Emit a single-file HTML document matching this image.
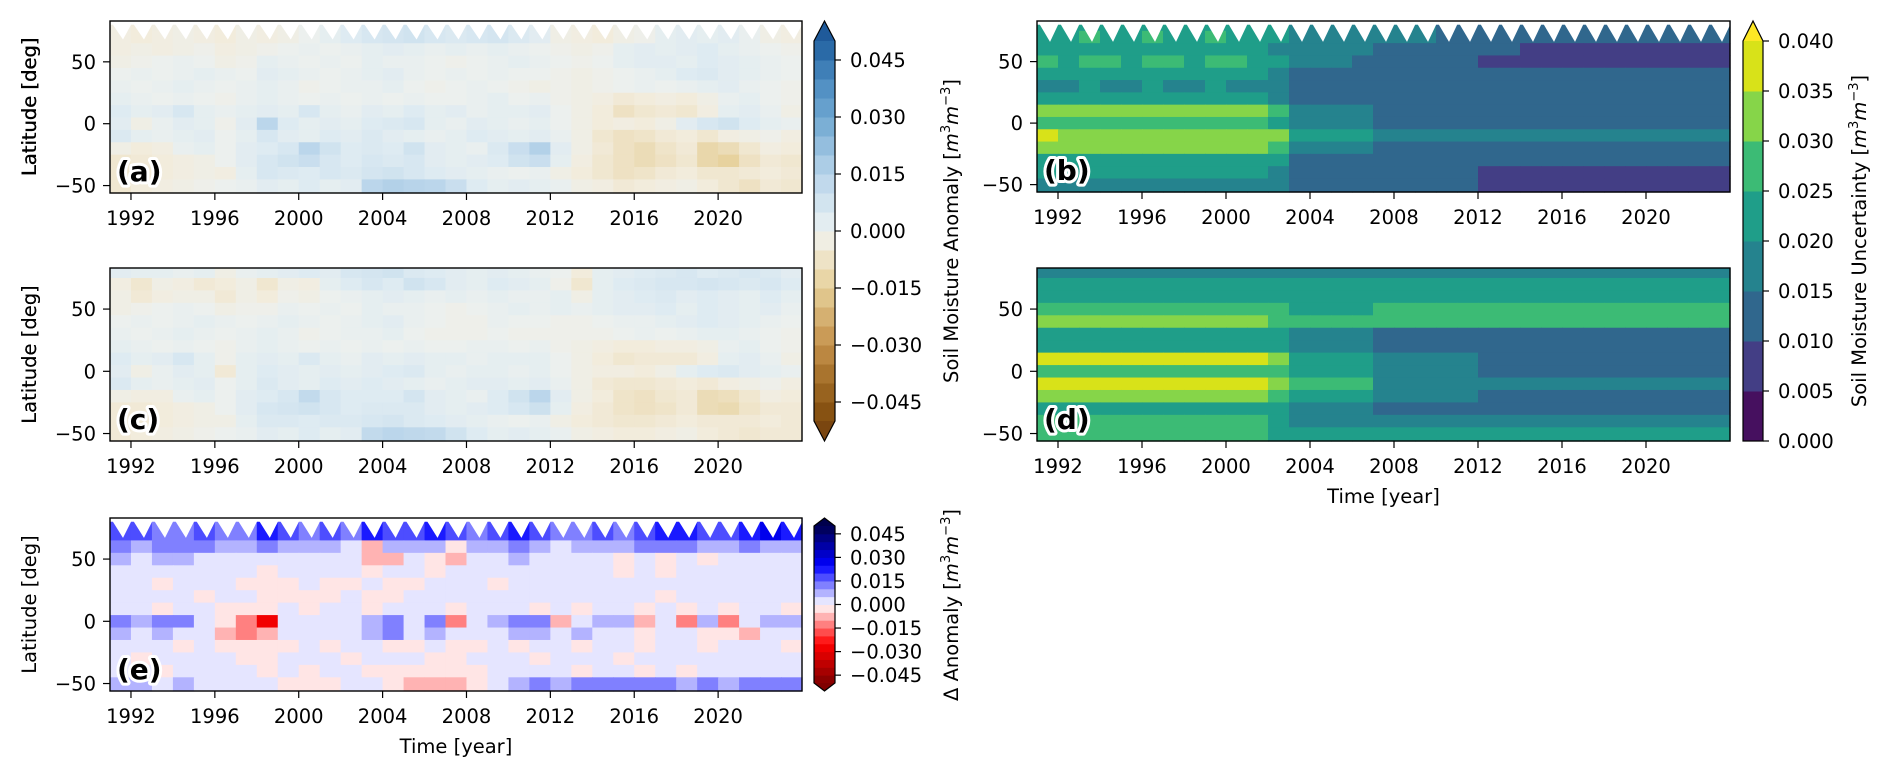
<!DOCTYPE html>
<html><head><meta charset="utf-8">
<style>
html,body{margin:0;padding:0;background:#fff;}
svg{display:block;}
text{font-family:"DejaVu Sans","Liberation Sans",sans-serif;fill:#000;}
</style></head>
<body>
<svg id="fig" width="1892" height="775" viewBox="0 0 1892 775" xmlns="http://www.w3.org/2000/svg"></svg>
<script>
// ---------- data (values in 1e-3 m3/m3) ----------
const years = [1991,1992,1993,1994,1995,1996,1997,1998,1999,2000,2001,2002,2003,2004,2005,2006,2007,2008,2009,2010,2011,2012,2013,2014,2015,2016,2017,2018,2019,2020,2021,2022,2023];
const latEdges = [83,75,65,55,45,35,25,15,5,-5,-15,-25,-35,-45,-56];
const xTicks = [1992,1996,2000,2004,2008,2012,2016,2020];
const yTicks = [50,0,-50];
const anomTicks = [0.045,0.030,0.015,0.000,-0.015,-0.030,-0.045];
const anomTickLabels = ["0.045","0.030","0.015","0.000","\u22120.015","\u22120.030","\u22120.045"];
const uncTicks = [0.040,0.035,0.030,0.025,0.020,0.015,0.010,0.005,0.000];
const uncTickLabels = ["0.040","0.035","0.030","0.025","0.020","0.015","0.010","0.005","0.000"];

const anomA = [
[-3,-4,-3,-2,-3,-4,-2,-3,-2,0,2,4,6,7,8,6,5,6,7,5,3,-2,-3,-4,-2,-1,2,3,2,3,1,-2,-3],
[-3,-4,-3,-2,-3,-4,-2,-3,-2,0,2,4,6,7,8,6,5,6,7,5,3,-2,-3,-4,-2,-1,2,3,2,3,1,-2,-3],
[-3,-2,-3,-2,-1,-3,-2,-1,0,1,0,1,2,3,2,1,2,1,2,1,0,-1,-2,-1,2,3,2,3,4,2,1,0,-1],
[-2,-1,0,1,0,-2,-1,2,1,0,1,0,2,1,1,0,-1,0,1,2,1,0,-1,0,2,3,3,2,4,3,2,1,0],
[0,1,0,1,2,1,0,3,2,1,0,1,2,3,1,0,1,0,1,0,0,-1,-2,-1,0,1,2,4,5,3,2,1,0],
[1,0,1,2,1,0,1,2,1,-1,0,1,1,2,0,-1,0,1,0,-1,-2,-1,-2,-1,0,1,0,1,2,3,1,0,-1],
[2,1,0,1,0,-1,1,2,1,0,1,0,1,0,1,0,0,1,2,0,1,-1,-2,-3,-5,-4,-3,-4,-2,1,2,0,-1],
[4,2,3,6,2,1,2,3,2,6,2,1,3,2,4,2,3,1,2,2,3,0,-2,-4,-8,-6,-5,-6,-3,2,3,1,-2],
[3,-2,1,3,2,-1,3,14,4,2,3,2,4,5,6,2,1,3,2,1,2,0,-2,-4,-3,-4,-2,3,6,8,4,2,1],
[5,2,1,2,3,0,2,6,3,2,4,3,5,3,2,1,2,4,3,2,3,1,-2,-6,-8,-7,-5,-4,-6,-3,-2,-1,-3],
[-2,-4,-3,1,2,0,3,4,6,14,8,4,5,4,8,3,2,1,5,10,16,3,-2,-5,-8,-10,-7,-5,-12,-10,-6,-3,-4],
[-6,-5,-4,-3,-2,0,3,6,8,10,6,4,6,5,6,3,2,3,4,8,10,2,-3,-6,-8,-10,-8,-6,-12,-14,-8,-5,-6],
[-6,-5,-4,-3,-2,-3,2,6,5,4,6,5,7,8,6,4,3,2,1,0,1,-2,-4,-6,-8,-7,-5,-4,-6,-6,-5,-4,-5],
[-6,-4,-3,-2,-1,0,1,3,2,4,2,3,14,16,15,14,10,4,2,3,2,1,-2,-3,-5,-4,-3,-2,-4,-6,-8,-5,-6]
];
const anomC = [
[3,2,2,1,2,-2,1,2,3,4,3,6,7,8,5,4,3,2,3,2,1,0,-4,2,3,4,5,6,4,5,6,5,3],
[-3,-6,-2,-3,-5,-4,-2,-6,-2,-3,2,4,6,4,8,6,3,2,4,3,2,-1,-6,2,4,5,6,6,7,6,5,6,4],
[-2,-5,-3,-2,-2,-5,-2,-4,-1,-2,0,1,2,3,2,1,2,1,2,1,1,2,-2,2,3,4,5,3,4,3,2,4,2],
[-2,-1,0,1,0,-2,-1,-1,1,0,1,0,2,1,1,0,-1,0,1,2,1,2,1,2,3,3,4,2,4,3,2,3,1],
[0,1,0,1,2,1,0,1,2,1,0,1,2,3,1,0,-1,-1,1,0,0,-1,-1,0,1,1,2,3,4,3,2,1,0],
[1,0,1,2,1,0,1,2,1,-1,0,1,1,2,0,-1,-1,-1,0,-1,-1,-1,-1,-1,0,1,0,1,2,2,1,0,-1],
[2,1,0,1,0,-1,1,2,1,0,1,0,1,0,1,0,0,1,1,0,1,-1,-2,-3,-4,-4,-3,-3,-2,1,2,0,-1],
[4,2,3,6,2,-1,2,3,2,5,2,1,3,2,3,2,2,1,2,2,2,0,-2,-4,-6,-5,-5,-5,-3,2,3,1,-2],
[3,-2,1,3,2,-5,2,4,3,2,3,2,3,4,5,2,1,2,2,1,2,0,-2,-3,-3,-4,-2,2,4,5,3,2,1],
[5,2,1,2,3,0,2,5,3,2,4,3,4,3,2,1,2,3,3,2,3,1,-2,-5,-6,-6,-5,-4,-5,-3,-2,-1,-3],
[-2,-3,-3,1,2,0,3,4,6,12,6,4,4,4,7,3,2,1,4,8,14,3,-2,-4,-7,-8,-6,-5,-10,-9,-6,-3,-4],
[-5,-5,-4,-3,-2,0,3,6,7,8,6,4,5,5,5,3,2,3,4,6,9,2,-3,-5,-7,-8,-7,-5,-10,-11,-7,-5,-5],
[-5,-5,-4,-3,-2,-2,2,5,5,4,5,5,6,7,5,4,3,2,1,0,1,-2,-4,-5,-6,-6,-5,-4,-5,-5,-5,-4,-5],
[-5,-4,-3,-2,-1,0,1,3,2,4,2,3,12,14,13,12,8,4,2,3,2,1,-2,-3,-4,-4,-3,-2,-4,-5,-6,-5,-5]
];
const deltaE = [
[18,16,14,12,15,14,10,20,16,14,18,12,22,16,18,20,16,14,18,20,16,12,14,16,14,18,20,22,18,16,20,25,24],
[18,16,14,12,15,14,10,20,16,14,18,12,22,16,18,20,16,14,18,20,16,12,14,16,14,18,20,22,18,16,20,25,24],
[10,8,12,10,12,8,6,10,8,6,6,4,-6,8,6,8,-4,6,8,10,6,4,6,8,6,10,12,14,8,6,10,8,6],
[6,4,8,6,4,4,2,4,2,2,2,2,-8,-6,2,-4,-6,2,4,6,2,2,4,2,-2,2,-4,2,-3,2,4,2,2],
[3,2,2,2,2,1,1,-2,1,1,1,1,-2,1,1,-1,1,1,1,2,1,1,1,1,-2,1,-3,1,1,1,1,1,1],
[1,1,-1,1,1,1,-1,-2,-1,1,-1,-1,1,-1,-1,1,1,1,-1,1,1,1,1,1,1,1,1,1,1,1,1,1,1],
[1,1,1,1,-1,1,1,-1,-1,-1,-1,1,-1,-1,1,1,1,1,1,1,1,1,1,1,1,1,-1,1,1,1,1,1,1],
[1,1,-1,1,1,-1,-3,-2,1,-1,1,1,-1,1,1,1,-1,1,1,1,-1,1,-1,1,1,-1,1,-1,1,-1,1,1,-1],
[10,8,10,12,4,-4,-12,-30,2,4,2,4,6,10,4,12,-12,4,8,10,10,-6,4,6,6,-8,4,-12,8,-14,4,8,6],
[6,4,6,3,2,-6,-12,-10,3,2,2,3,6,10,4,8,2,1,3,6,8,3,6,2,4,-2,3,2,-4,-3,-6,2,1],
[1,1,1,-1,1,-1,-2,-2,-1,1,-1,1,1,-1,-1,1,-2,-1,1,-1,1,1,-1,1,1,-1,1,1,-1,1,1,1,-1],
[1,-1,1,1,1,1,-1,-1,1,1,1,-1,1,1,1,-1,-1,1,1,1,-1,1,1,1,-1,1,1,1,1,1,1,1,1],
[1,1,-1,1,1,1,1,-1,1,-1,1,1,-1,-1,-2,-2,-2,-1,1,1,1,1,-1,1,1,-2,1,-2,1,1,1,1,1],
[8,6,4,6,4,2,3,4,-2,-3,-4,4,2,-4,-6,-8,-6,-4,4,8,10,8,10,12,10,12,10,8,10,6,10,12,10]
];
const uncB = [
[22,22,23,22,22,23,22,22,23,22,22,20,17,17,16,16,15,15,15,14,14,12,12,12,11,11,11,11,11,11,11,11,11],
[23,22,26,22,23,26,22,23,26,22,23,20,17,17,16,16,15,15,15,14,14,12,12,12,11,11,11,11,11,11,11,11,11],
[21,22,22,21,22,22,21,22,21,22,21,19,16,16,15,15,14,14,14,13,13,10,10,9,9,9,8,8,8,9,9,9,9],
[26,24,26,25,24,26,25,24,26,25,24,21,15,15,15,14,13,13,13,13,12,9,9,8,8,8,8,8,8,8,8,9,9],
[22,21,22,22,21,22,22,21,22,21,22,19,13,13,13,13,12,12,12,12,12,11,11,11,11,11,11,11,11,11,11,11,11],
[19,19,20,19,19,20,19,19,20,19,19,17,13,13,13,13,12,12,12,12,12,12,12,12,12,12,12,12,12,12,12,12,12],
[20,20,21,20,20,21,20,20,21,20,20,18,14,14,14,14,13,13,13,13,13,12,12,12,12,12,12,12,12,12,12,12,12],
[32,31,31,31,30,31,31,30,31,31,31,27,19,19,19,19,14,14,14,14,14,13,13,13,13,13,13,13,13,13,13,13,13],
[27,27,28,27,27,28,27,27,28,27,27,24,18,18,18,18,13,13,13,13,13,12,12,12,12,12,12,12,12,12,12,12,12],
[35,34,34,34,33,34,34,33,34,34,34,30,21,21,21,21,16,16,16,16,16,15,15,15,15,15,15,15,15,15,15,15,15],
[30,30,31,30,30,31,30,30,31,30,30,26,18,18,18,18,14,14,14,14,14,13,13,13,13,13,13,13,13,13,13,13,13],
[24,23,24,23,23,24,23,23,24,23,23,20,14,14,14,14,11,11,11,11,11,10,10,10,10,10,10,10,10,10,10,10,10],
[22,22,23,22,22,23,22,22,23,22,22,19,14,14,14,14,11,11,11,11,11,9,9,9,9,9,9,9,9,9,9,9,9],
[18,18,19,18,18,19,18,18,19,18,18,16,11,11,11,11,10,10,10,10,10,8,8,8,8,8,8,8,8,8,8,8,8]
];
const uncD = [
[18,18,18,18,18,18,18,18,18,18,18,18,17,17,17,17,17,17,17,17,17,16,16,16,16,16,16,16,16,16,16,16,16],
[24,24,24,24,24,24,24,24,24,24,24,23,21,21,21,21,22,22,22,22,22,22,22,22,22,22,22,22,22,22,22,22,22],
[24,24,24,24,24,24,24,24,24,24,24,23,22,22,22,22,23,23,23,23,23,23,23,23,23,23,23,23,23,23,23,23,23],
[28,28,28,28,28,28,28,28,28,28,28,27,24,24,24,24,26,26,26,26,26,26,26,26,26,26,26,26,26,26,26,26,26],
[30,30,30,30,30,30,30,30,30,30,30,28,25,25,25,25,27,27,27,27,27,28,28,28,28,28,28,28,28,28,28,28,28],
[22,22,22,22,22,22,22,22,22,22,22,20,16,16,16,16,13,13,13,13,13,12,12,12,12,12,12,12,12,12,12,12,12],
[24,24,24,24,24,24,24,24,24,24,24,22,17,17,17,17,14,14,14,14,14,12,12,12,12,12,12,12,12,12,12,12,12],
[36,36,36,36,36,36,36,36,36,36,36,32,24,24,24,24,16,16,16,16,16,14,14,14,14,14,14,14,14,14,14,14,14],
[28,28,28,28,28,28,28,28,28,28,28,26,20,20,20,20,15,15,15,15,15,13,13,13,13,13,13,13,13,13,13,13,13],
[37,37,37,37,37,37,37,37,37,37,37,33,27,27,27,27,18,18,18,18,18,16,16,16,16,16,16,16,16,16,16,16,16],
[32,32,32,32,32,32,32,32,32,32,32,28,22,22,22,22,15,15,15,15,15,14,14,14,14,14,14,14,14,14,14,14,14],
[24,24,24,24,24,24,24,24,24,24,24,22,15,15,15,15,12,12,12,12,12,12,12,12,12,12,12,12,12,12,12,12,12],
[27,27,27,27,27,27,27,27,27,27,27,24,17,17,17,17,18,18,18,18,18,19,19,19,19,19,19,19,19,19,19,19,19],
[25,25,25,25,25,25,25,25,25,25,25,23,20,20,20,20,21,21,21,21,21,22,22,22,22,22,22,22,22,22,22,22,22]
];

// ---------- helpers ----------
const NS = "http://www.w3.org/2000/svg";
const svg = document.getElementById('fig');
function mk(tag, attrs, parent){
  const e = document.createElementNS(NS, tag);
  for (const k in attrs) e.setAttribute(k, attrs[k]);
  (parent || svg).appendChild(e);
  return e;
}
function hex(c){return [parseInt(c.slice(1,3),16),parseInt(c.slice(3,5),16),parseInt(c.slice(5,7),16)];}
function lerpStops(stops, v){
  if (v <= stops[0][0]) return stops[0][1];
  for (let i=1;i<stops.length;i++){
    if (v <= stops[i][0]){
      const t=(v-stops[i-1][0])/(stops[i][0]-stops[i-1][0]);
      const a=hex(stops[i-1][1]), b=hex(stops[i][1]);
      return 'rgb('+a.map((x,j)=>Math.round(x+(b[j]-x)*t)).join(',')+')';
    }
  }
  return stops[stops.length-1][1];
}
const brbuStops = [[-50,'#7f4a0c'],[-40,'#a06b25'],[-30,'#c4904a'],[-15,'#e6cf98'],[-4,'#f2ecdc'],[0,'#ecf0ee'],[4,'#deebf2'],[15,'#b8d4ea'],[30,'#6fa7d1'],[40,'#4a8abf'],[50,'#1f5f9f']];
function brbu(v){ const b = Math.max(-47.5, Math.min(47.5, Math.floor(v/5)*5+2.5)); return lerpStops(brbuStops, b); }
function brbuSoft(v){ return lerpStops(brbuStops, v); }
const viridisBins = ['#46105f','#433e85','#30678d','#25838e','#1f9e89','#3cbb75','#86d549','#d8e219'];
function viri(v){ if (v>=40) return '#fde725'; return viridisBins[Math.max(0,Math.floor(v/5))]; }
function seismicX(x){
  let r,g,b;
  if (x<0.25){r=0;g=0;b=0.3+0.7*x/0.25;}
  else if (x<0.5){r=g=(x-0.25)/0.25;b=1;}
  else if (x<0.75){r=1;g=b=1-(x-0.5)/0.25;}
  else {r=1-0.5*(x-0.75)/0.25;g=b=0;}
  return 'rgb('+[r,g,b].map(c=>Math.round(c*255)).join(',')+')';
}
function seis(v){ const bin = Math.max(-47.5, Math.min(47.5, Math.floor(v/5)*5+2.5)); return seismicX(0.5 - bin/100); }

function panel(cfg){
  const g = mk('g', {});
  
  
  const W = cfg.x1-cfg.x0, H = cfg.y1-cfg.y0;
  const xs = t => cfg.x0 + (t-1991)/33*W;
  const ys = lat => cfg.y0 + (83-lat)/139*H;
  const cells = mk('g', {}, g);
  
  
  cfg.data.forEach((row, ri) => {
    row.forEach((v, ci) => {
      const xa = xs(years[ci]), xb = xs(years[ci]+1);
      const ya = ys(latEdges[ri]), yb = ys(latEdges[ri+1]);
      const r = mk('rect', {x:xa.toFixed(2), y:ya.toFixed(2), width:(xb-xa+0.6).toFixed(2), height:(yb-ya+0.6).toFixed(2), fill:cfg.color(v)}, cells);
      
      
    });
  });
  if (cfg.scallop){
    const sc = mk('g', {fill:'#fff'}, g);
    
    
    mk('rect', {x:cfg.x0, y:cfg.y0, width:W, height:(ys(80)-cfg.y0).toFixed(2)}, sc);
    years.forEach(yr => {
      const p = mk('polygon', {points:[xs(yr+0.12)+','+ys(80.5), xs(yr+1.02)+','+ys(80.5), xs(yr+0.62)+','+ys(cfg.scallop)].join(' ')}, sc);
      
      
    });
  }
  const fr = mk('rect', {x:cfg.x0, y:cfg.y0, width:W, height:H, fill:'none', stroke:'#000', 'stroke-width':1.4}, g);
  
  
  yTicks.forEach(lat => {
    const y = ys(lat);
    mk('line', {x1:cfg.x0-7, x2:cfg.x0, y1:y, y2:y, stroke:'#000', 'stroke-width':1.2}, g);
    if (cfg.ylabels){
      const t = mk('text', {x:cfg.x0-14, y:y+7, 'text-anchor':'end', 'font-size':19.5}, g);
      t.textContent = lat<0 ? '\u2212'+Math.abs(lat) : String(lat);
      
      
    }
  });
  xTicks.forEach(yr => {
    const x = xs(yr);
    mk('line', {x1:x, x2:x, y1:cfg.y1, y2:cfg.y1+7, stroke:'#000', 'stroke-width':1.2}, g);
    if (cfg.xlabels){
      const t = mk('text', {x:x, y:cfg.y1+32, 'text-anchor':'middle', 'font-size':19.5}, g);
      t.textContent = String(yr);
      
      
    }
  });
  if (cfg.ylabels){
    const cy = (cfg.y0+cfg.y1)/2;
    const t = mk('text', {x:0, y:0, transform:'translate(36,'+cy+') rotate(-90)', 'text-anchor':'middle', 'font-size':19.5}, g);
    t.textContent = 'Latitude [deg]';
    
    
  }
  const lab = mk('text', {x:cfg.x0+7, y:cfg.y1-12, 'font-size':28, 'font-weight':'bold', stroke:'#fff', 'stroke-width':6, 'paint-order':'stroke', 'stroke-linejoin':'round'}, g);
  lab.textContent = cfg.label;
  
  
  if (cfg.xtitle){
    const t = mk('text', {x:(cfg.x0+cfg.x1)/2, y:cfg.y1+62, 'text-anchor':'middle', 'font-size':19.5}, g);
    t.textContent = 'Time [year]';
    
    
  }
}

panel({name:'panel-a', x0:110, x1:802, y0:21, y1:193, data:anomA, color:brbuSoft, scallop:68, ylabels:true, xlabels:true, label:'(a)'});
panel({name:'panel-c', x0:110, x1:802, y0:268, y1:441, data:anomC, color:brbuSoft, ylabels:true, xlabels:true, label:'(c)'});
panel({name:'panel-e', x0:110, x1:802, y0:518, y1:691, data:deltaE, color:seis, scallop:67, ylabels:true, xlabels:true, label:'(e)', xtitle:true});
panel({name:'panel-b', x0:1037, x1:1730, y0:21, y1:192, data:uncB, color:viri, scallop:66, ylabels:true, xlabels:true, label:'(b)'});
panel({name:'panel-d', x0:1037, x1:1730, y0:268, y1:441, data:uncD, color:viri, ylabels:true, xlabels:true, label:'(d)', xtitle:true});

function colorbar(cfg){
  const g = mk('g', {});
  
  
  const vy = v => cfg.yTop + (cfg.vmax - v)/(cfg.vmax-cfg.vmin)*(cfg.yBot-cfg.yTop);
  for (let v=cfg.vmin; v<cfg.vmax-1e-9; v+=cfg.step){
    const c = cfg.color((v+cfg.step/2)*1000);
    mk('rect', {x:cfg.x0, y:vy(v+cfg.step), width:cfg.x1-cfg.x0, height:vy(v)-vy(v+cfg.step)+0.5, fill:c}, g);
  }
  const xm=(cfg.x0+cfg.x1)/2;
  mk('polygon', {points:cfg.x0+','+cfg.yTop+' '+xm+','+cfg.tipTop+' '+cfg.x1+','+cfg.yTop, fill:cfg.overColor}, g);
  let outline = cfg.x0+','+cfg.yTop+' '+xm+','+cfg.tipTop+' '+cfg.x1+','+cfg.yTop+' '+cfg.x1+','+cfg.yBot;
  if (cfg.tipBot){
    mk('polygon', {points:cfg.x0+','+cfg.yBot+' '+xm+','+cfg.tipBot+' '+cfg.x1+','+cfg.yBot, fill:cfg.underColor}, g);
    outline += ' '+xm+','+cfg.tipBot;
  }
  outline += ' '+cfg.x0+','+cfg.yBot;
  mk('polygon', {points:outline, fill:'none', stroke:'#000', 'stroke-width':1.2}, g);
  cfg.ticks.forEach((v,i) => {
    const y = vy(v);
    mk('line', {x1:cfg.x1, x2:cfg.x1+6, y1:y, y2:y, stroke:'#000', 'stroke-width':1.2}, g);
    const t = mk('text', {x:cfg.x1+15, y:y+7, 'font-size':19.5}, g);
    t.textContent = cfg.labels[i];
    
    
  });
  const t = mk('text', {x:0, y:0, transform:'translate('+cfg.titleX+','+cfg.titleY+') rotate(-90)', 'text-anchor':'middle', 'font-size':19.5}, g);
  t.innerHTML = cfg.title;
  
  
}
const unitT = ' [<tspan font-style="italic">m</tspan><tspan font-size="13" dy="-8">3</tspan><tspan font-style="italic" dy="8">m</tspan><tspan font-size="13" dy="-8">\u22123</tspan><tspan dy="8">]</tspan>';
colorbar({name:'colorbar-anomaly', x0:814, x1:835, yTop:41, yBot:421, tipTop:21, tipBot:441, vmin:-0.05, vmax:0.05, step:0.005, color:brbu, overColor:'#1f5a9a', underColor:'#7a4610', ticks:anomTicks, labels:anomTickLabels, title:'Soil Moisture Anomaly'+unitT, titleX:958, titleY:231});
colorbar({name:'colorbar-uncertainty', x0:1743, x1:1763, yTop:41, yBot:441, tipTop:21, tipBot:0, vmin:0, vmax:0.04, step:0.005, color:viri, overColor:'#fde725', ticks:uncTicks, labels:uncTickLabels, title:'Soil Moisture Uncertainty'+unitT, titleX:1866, titleY:241});
colorbar({name:'colorbar-delta', x0:814, x1:835, yTop:526, yBot:683, tipTop:518, tipBot:691, vmin:-0.05, vmax:0.05, step:0.005, color:seis, overColor:'#00004c', underColor:'#800000', ticks:anomTicks, labels:anomTickLabels, title:'\u0394 Anomaly'+unitT, titleX:958, titleY:605});
</script>
</body></html>
